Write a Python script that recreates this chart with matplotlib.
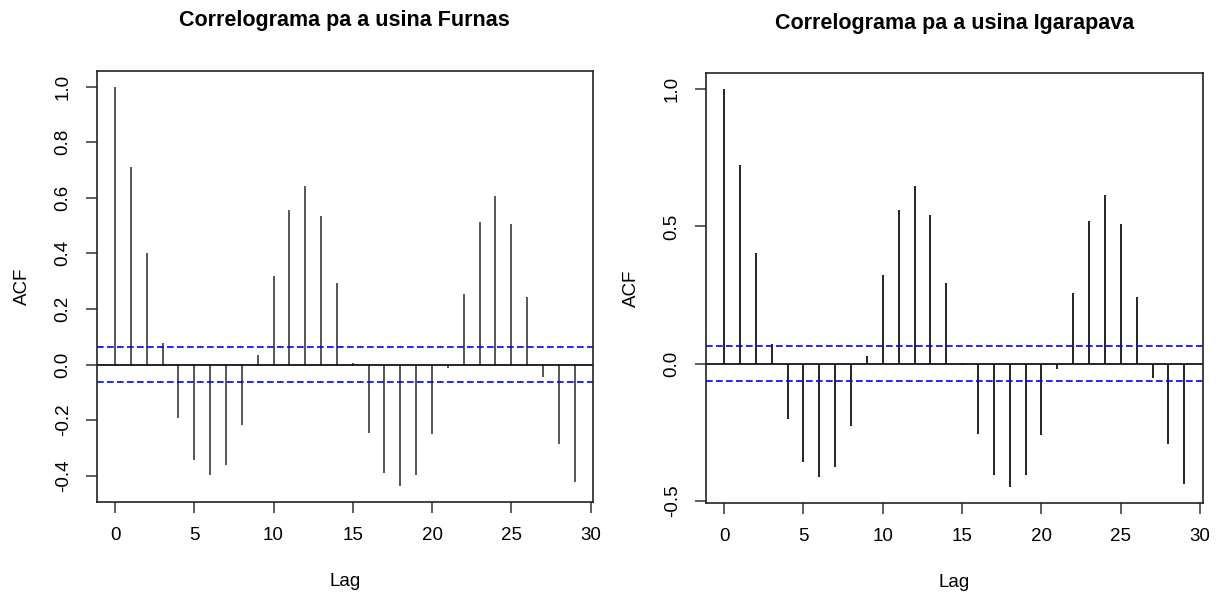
import numpy as np
import matplotlib
matplotlib.use("Agg")
import matplotlib.pyplot as plt

plt.rcParams['font.family'] = ['Liberation Sans', 'DejaVu Sans']

lags = np.arange(30)

acf_furnas = [1.0, 0.712, 0.40, 0.077, -0.193, -0.345, -0.399, -0.362, -0.218, 0.034,
              0.317, 0.555, 0.641, 0.536, 0.293, 0.005, -0.247, -0.391, -0.436, -0.396,
              -0.251, -0.012, 0.255, 0.514, 0.606, 0.506, 0.242, -0.046, -0.284, -0.424]
acf_igarapava = [1.0, 0.723, 0.403, 0.072, -0.201, -0.359, -0.414, -0.376, -0.227, 0.028,
                 0.323, 0.559, 0.647, 0.540, 0.294, -0.005, -0.256, -0.407, -0.451, -0.407,
                 -0.261, -0.018, 0.256, 0.518, 0.614, 0.510, 0.243, -0.052, -0.294, -0.439]
ci_furnas = 0.062
ci_igarapava = 0.063

fig = plt.figure(figsize=(12.19, 5.92), dpi=100)


def acf_panel(rect, acf, ci, title, yticks, ylabels, color):
    ax = fig.add_axes(rect)
    ax.vlines(lags, 0, acf, color=color, linewidth=1.2)
    ax.axhline(0, color='black', linewidth=1.2)
    for c in (ci, -ci):
        ax.axhline(c, color='blue', linestyle=(0, (4, 2)), linewidth=1.2)
    lo = min(min(acf), -ci)
    hi = max(max(acf), ci)
    pad = (hi - lo) * 0.04
    ax.set_ylim(lo - pad, hi + pad)
    ax.set_xlim(-29 * 0.04, 29 * 1.04)
    ax.set_xticks([0, 5, 10, 15, 20, 25, 30])
    ax.set_yticks(yticks)
    ax.set_yticklabels(ylabels, rotation=90, va='center')
    ax.tick_params(length=8, width=1.1, pad=10, labelsize=13.5, color='#333333')
    for s in ax.spines.values():
        s.set_linewidth(1.2)
        s.set_color('#222222')
    ax.set_xlabel('Lag', fontsize=13.5, labelpad=21)
    ax.set_ylabel('ACF', fontsize=13.5, labelpad=17)
    ax.set_title(title, fontsize=15.5, fontweight='bold', pad=32)
    return ax


acf_panel([0.0793, 0.1525, 0.4072, 0.7281], acf_furnas, ci_furnas,
          'Correlograma pa a usina Furnas',
          [-0.4, -0.2, 0.0, 0.2, 0.4, 0.6, 0.8, 1.0],
          ['-0.4', '-0.2', '0.0', '0.2', '0.4', '0.6', '0.8', '1.0'], '#3a3a3a')
acf_panel([0.5789, 0.1498, 0.4077, 0.7264], acf_igarapava, ci_igarapava,
          'Correlograma pa a usina Igarapava',
          [-0.5, 0.0, 0.5, 1.0], ['-0.5', '0.0', '0.5', '1.0'], 'black')

fig.savefig('out.png', dpi=100)
